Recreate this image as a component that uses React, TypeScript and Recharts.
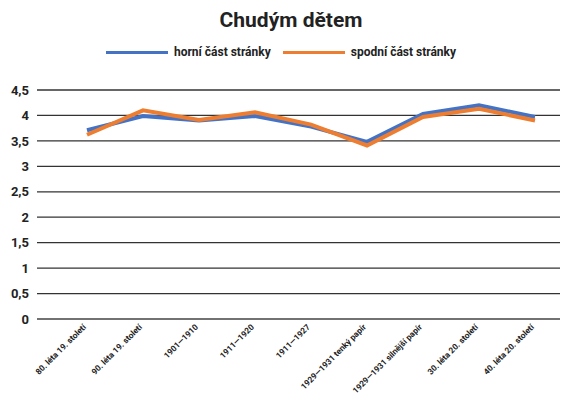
import { LineChart, Line, XAxis, YAxis, CartesianGrid } from 'recharts';

const categories = [
  '80. léta 19. století',
  '90. léta 19. století',
  '1901—1910',
  '1911—1920',
  '1911—1927',
  '1929—1931 tenký papír',
  '1929—1931 silnější papír',
  '30. léta 20. století',
  '40. léta 20. století',
];
const horni = [3.71, 3.99, 3.9, 3.99, 3.78, 3.48, 4.03, 4.2, 3.97];
const spodni = [3.62, 4.1, 3.91, 4.06, 3.82, 3.41, 3.97, 4.13, 3.9];
const yTicks = [0, 0.5, 1, 1.5, 2, 2.5, 3, 3.5, 4, 4.5];

const BLUE = '#4472C4';
const ORANGE = '#ED7D31';
const FONT = 'Roboto, "Open Sans", sans-serif';

const data = categories.map((c, i) => ({ name: c, horni: horni[i], spodni: spodni[i] }));

function XTick({ x, y, payload }: any) {
  return (
    <g transform={`translate(${x - 2},${y - 1})`}>
      <text
        transform="rotate(-45)"
        textAnchor="end"
        dominantBaseline="middle"
        fontSize={8.3}
        fontWeight={700}
        fill="#222"
        fontFamily={FONT}
      >
        {payload.value}
      </text>
    </g>
  );
}

const legendItems = [
  { label: 'horní část stránky', color: BLUE },
  { label: 'spodní část stránky', color: ORANGE },
];

export default function App() {
  return (
    <div style={{ position: 'absolute', left: 0, top: 0, width: 562, height: 400, background: '#fff' }}>
      <div
        style={{
          position: 'absolute',
          left: 0,
          width: 582,
          top: 8,
          textAlign: 'center',
          fontFamily: FONT,
          fontWeight: 700,
          fontSize: 21,
          color: '#222',
        }}
      >
        Chudým dětem
      </div>
      <div
        style={{
          position: 'absolute',
          left: 0,
          width: 562,
          top: 45,
          display: 'flex',
          justifyContent: 'center',
          gap: 12,
          fontFamily: FONT,
        }}
      >
        {legendItems.map((it) => (
          <div key={it.label} style={{ display: 'flex', alignItems: 'center' }}>
            <span style={{ display: 'inline-block', width: 62, height: 3, background: it.color, marginRight: 6 }} />
            <span style={{ fontSize: 12, fontWeight: 700, color: '#222' }}>{it.label}</span>
          </div>
        ))}
      </div>
      <LineChart width={562} height={400} data={data} margin={{ top: 90, right: 2, bottom: 11, left: 0 }}>
        <CartesianGrid vertical={false} stroke="#333" strokeWidth={1.3} />
        <XAxis
          dataKey="name"
          interval={0}
          height={70}
          tick={<XTick />}
          tickLine={false}
          axisLine={{ stroke: '#777', strokeWidth: 1.5 }}
          padding={{ left: 50, right: 25 }}
        />
        <YAxis
          domain={[0, 4.5]}
          ticks={yTicks}
          width={37}
          axisLine={false}
          tickLine={false}
          tickSize={0}
          tickMargin={8}
          tickFormatter={(v: number) => String(v).replace('.', ',')}
          tick={{ fontSize: 13, fontWeight: 700, fill: '#222', fontFamily: FONT }}
        />
        <Line dataKey="horni" name="horní část stránky" stroke={BLUE} strokeWidth={4} dot={false} isAnimationActive={false} />
        <Line dataKey="spodni" name="spodní část stránky" stroke={ORANGE} strokeWidth={4} dot={false} isAnimationActive={false} />
      </LineChart>
    </div>
  );
}
